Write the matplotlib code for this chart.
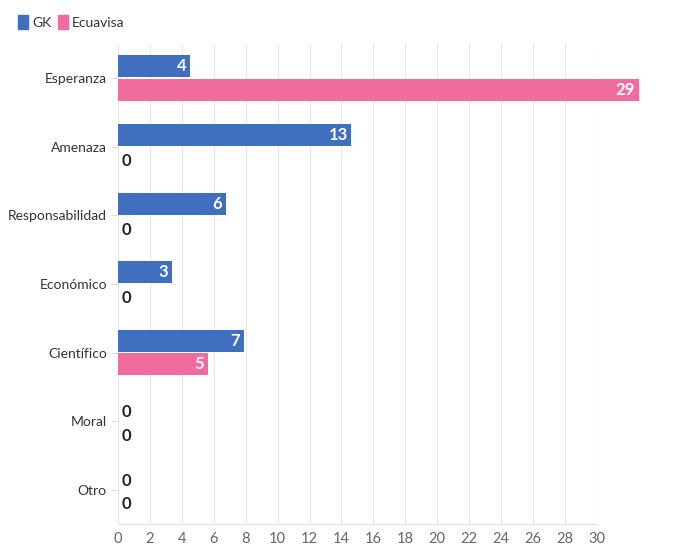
import matplotlib
import matplotlib.pyplot as plt
import numpy as np

matplotlib.use("Agg")

categories = ["Esperanza", "Amenaza", "Responsabilidad", "Económico", "Científico", "Moral", "Otro"]
gk = [4, 13, 6, 3, 7, 0, 0]
ecuavisa = [29, 0, 0, 0, 5, 0, 0]
series_names = ["GK", "Ecuavisa"]
colors = ["#3F6FBE", "#F06C9E"]
tick_values = list(range(0, 31, 2))

# the source chart draws its bars on a wider scale than its tick labels
tick_scale = 18 / 16

plt.rcParams["font.family"] = ["Lato", "DejaVu Sans"]

fig = plt.figure(figsize=(6.9, 5.54), dpi=100)
ax = fig.add_axes([0.171, 0.054, 0.694, 0.867])

y = np.arange(len(categories))
h = 0.32
off = 0.17

for vals, sign, color in [(gk, -1, colors[0]), (ecuavisa, 1, colors[1])]:
    ax.barh(y + sign * off, vals, height=h, color=color, zorder=3, clip_on=False)
    for yi, v in zip(y, vals):
        if v > 0:
            ax.text(v - 0.2, yi + sign * off, str(v), ha="right", va="center",
                    color="white", fontsize=12, fontweight="bold", zorder=4, clip_on=False)
        else:
            ax.text(0.2, yi + sign * off + 0.04, "0", ha="left", va="center",
                    color="#222222", fontsize=12, fontweight="bold", zorder=4)

ax.set_ylim(len(categories) - 0.5, -0.5)
ax.set_xlim(0, 30 / tick_scale)
ax.set_xticks([])
for t in tick_values:
    ax.axvline(t / tick_scale, color="#e8e8e8", linewidth=0.8, zorder=0)

sec = ax.secondary_xaxis("bottom", functions=(lambda x: x * tick_scale, lambda x: x / tick_scale))
sec.set_xticks(tick_values)
sec.tick_params(axis="x", length=0, colors="#666666", labelsize=10.5, pad=6)
sec.spines["bottom"].set_visible(False)

ax.set_yticks(y)
ax.set_yticklabels(categories)
ax.tick_params(axis="y", length=5, color="#dddddd", labelcolor="#333333", labelsize=10, pad=3)
for s in ["top", "right", "left"]:
    ax.spines[s].set_visible(False)
ax.spines["bottom"].set_color("#e0e0e0")

# legend
handles = [plt.Rectangle((0, 0), 1, 1, color=c) for c in colors]
fig.legend(handles, series_names, loc="upper left", bbox_to_anchor=(0.008, 0.995),
           ncol=2, frameon=False, fontsize=10, handlelength=0.7, handleheight=1.1,
           handletextpad=0.3, columnspacing=0.5, labelcolor="#333333")

fig.savefig("out.png", dpi=100)
